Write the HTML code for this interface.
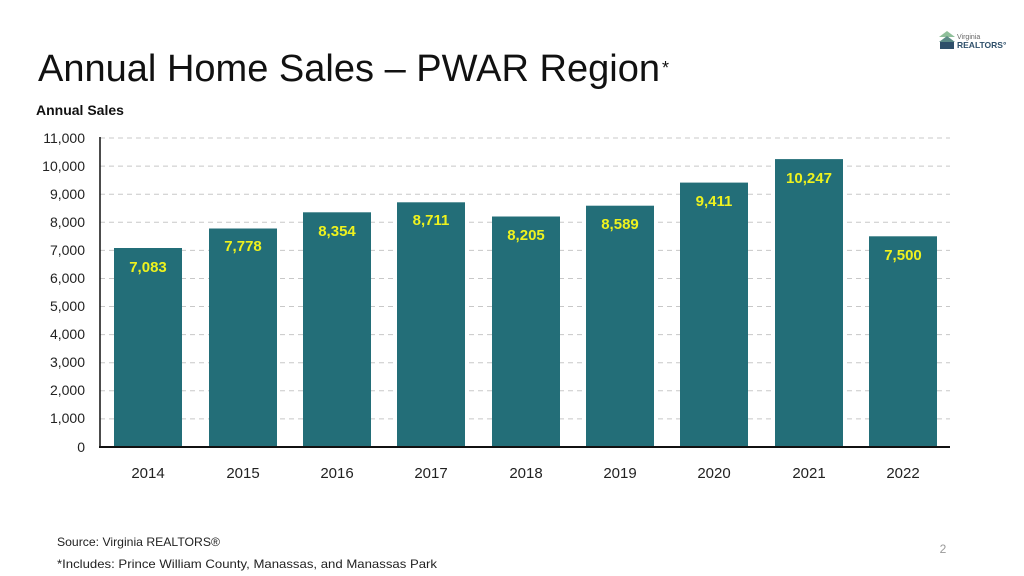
<!DOCTYPE html>
<html><head><meta charset="utf-8"><style>
html,body{margin:0;padding:0;background:#fff;}
svg{display:block;font-family:"Liberation Sans",sans-serif;}
</style></head><body>
<svg width="1024" height="576" viewBox="0 0 1024 576" xmlns="http://www.w3.org/2000/svg">
<rect width="1024" height="576" fill="#fff"/>
<text x="38" y="81" font-size="38" fill="#111" textLength="622" lengthAdjust="spacingAndGlyphs">Annual Home Sales – PWAR Region</text>
<text x="662" y="74" font-size="18" fill="#111">*</text>
<g>
<path d="M939 37 L947 31 L955 37 Z" fill="#8fbf9a"/>
<path d="M939 42 L947 36 L955 42 Z" fill="#5a8a86"/>
<rect x="940" y="42" width="14" height="7" fill="#2e4f6a"/>
<text x="957" y="39" font-size="7" fill="#666">Virginia</text>
<text x="957" y="48" font-size="8.5" fill="#2e4f6a" font-weight="bold">REALTORS°</text>
</g>
<text x="36" y="115" font-size="14" font-weight="bold" fill="#111">Annual Sales</text>
<g stroke="#c8c8c8" stroke-width="1" stroke-dasharray="5,4">
<line x1="100" x2="950" y1="138" y2="138"/>
<line x1="100" x2="950" y1="166.1" y2="166.1"/>
<line x1="100" x2="950" y1="194.2" y2="194.2"/>
<line x1="100" x2="950" y1="222.3" y2="222.3"/>
<line x1="100" x2="950" y1="250.4" y2="250.4"/>
<line x1="100" x2="950" y1="278.5" y2="278.5"/>
<line x1="100" x2="950" y1="306.5" y2="306.5"/>
<line x1="100" x2="950" y1="334.6" y2="334.6"/>
<line x1="100" x2="950" y1="362.7" y2="362.7"/>
<line x1="100" x2="950" y1="390.8" y2="390.8"/>
<line x1="100" x2="950" y1="418.9" y2="418.9"/>
</g>
<g font-size="14" fill="#222" text-anchor="end">
<text x="85" y="143">11,000</text>
<text x="85" y="171">10,000</text>
<text x="85" y="199">9,000</text>
<text x="85" y="227">8,000</text>
<text x="85" y="255">7,000</text>
<text x="85" y="283">6,000</text>
<text x="85" y="311">5,000</text>
<text x="85" y="339">4,000</text>
<text x="85" y="367">3,000</text>
<text x="85" y="395">2,000</text>
<text x="85" y="423">1,000</text>
<text x="85" y="452">0</text>
</g>
<g fill="#236e78">
<rect x="114" y="248" width="68" height="199"/>
<rect x="209" y="228.5" width="68" height="218.5"/>
<rect x="303" y="212.3" width="68" height="234.7"/>
<rect x="397" y="202.3" width="68" height="244.7"/>
<rect x="492" y="216.5" width="68" height="230.5"/>
<rect x="586" y="205.7" width="68" height="241.3"/>
<rect x="680" y="182.6" width="68" height="264.4"/>
<rect x="775" y="159.1" width="68" height="287.9"/>
<rect x="869" y="236.3" width="68" height="210.7"/>
</g>
<g font-size="15" font-weight="bold" fill="#eef21e" text-anchor="middle">
<text x="148" y="272">7,083</text>
<text x="243" y="251">7,778</text>
<text x="337" y="236">8,354</text>
<text x="431" y="225">8,711</text>
<text x="526" y="240">8,205</text>
<text x="620" y="229">8,589</text>
<text x="714" y="206">9,411</text>
<text x="809" y="183">10,247</text>
<text x="903" y="260">7,500</text>
</g>
<line x1="100" y1="137" x2="100" y2="448" stroke="#111" stroke-width="1.5"/>
<line x1="99" y1="447" x2="950" y2="447" stroke="#111" stroke-width="2"/>
<g font-size="15" fill="#222" text-anchor="middle">
<text x="148" y="478">2014</text>
<text x="243" y="478">2015</text>
<text x="337" y="478">2016</text>
<text x="431" y="478">2017</text>
<text x="526" y="478">2018</text>
<text x="620" y="478">2019</text>
<text x="714" y="478">2020</text>
<text x="809" y="478">2021</text>
<text x="903" y="478">2022</text>
</g>
<text x="57" y="546" font-size="12" fill="#222" textLength="163" lengthAdjust="spacingAndGlyphs">Source: Virginia REALTORS®</text>
<text x="57" y="568" font-size="12" fill="#222" textLength="380" lengthAdjust="spacingAndGlyphs">*Includes: Prince William County, Manassas, and Manassas Park</text>
<text x="943" y="553" font-size="12" fill="#999" text-anchor="middle">2</text>
</svg>
</body></html>
